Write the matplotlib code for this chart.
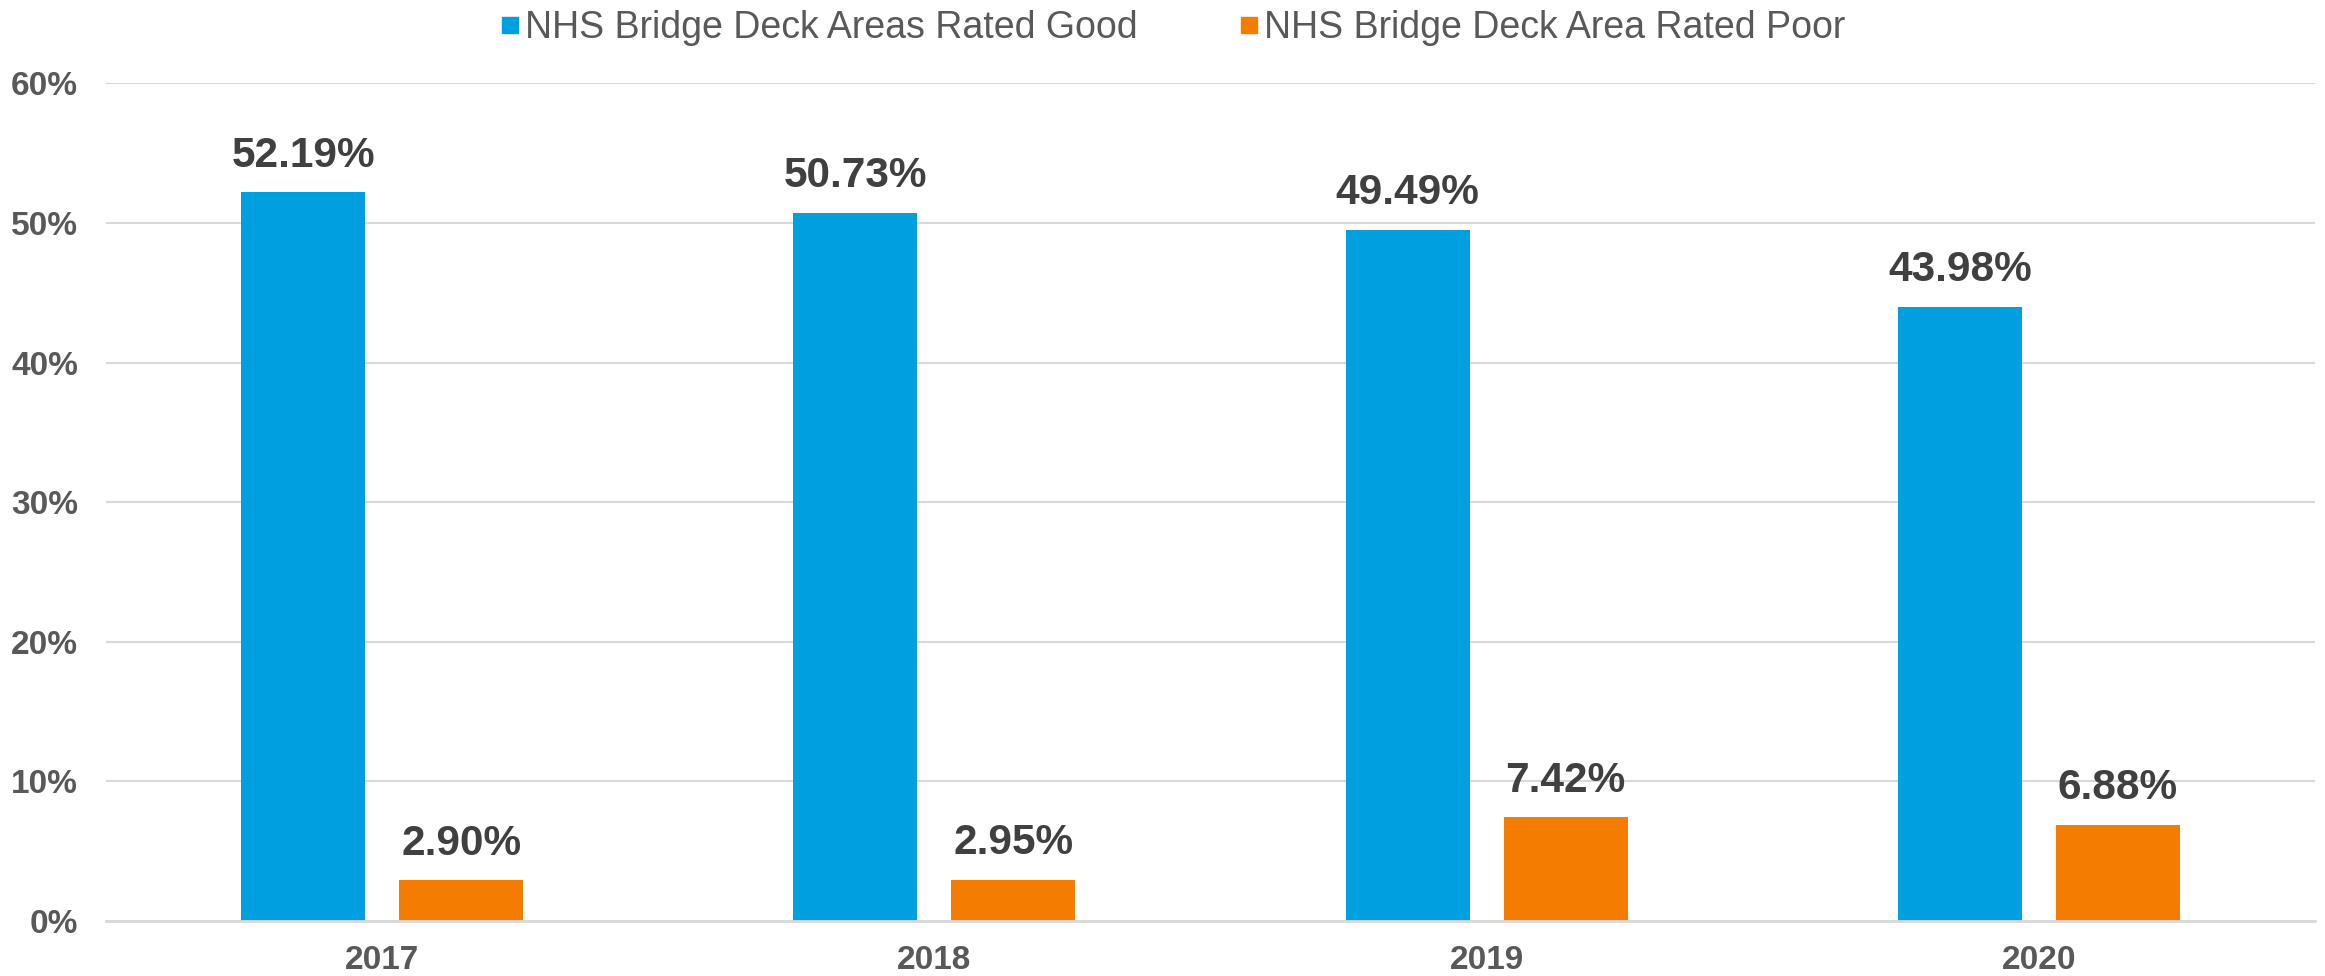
import matplotlib
matplotlib.use("Agg")
import matplotlib.pyplot as plt
from matplotlib.lines import Line2D
import numpy as np

years = ["2017", "2018", "2019", "2020"]
good = [52.19, 50.73, 49.49, 43.98]
poor = [2.90, 2.95, 7.42, 6.88]
series_names = ["NHS Bridge Deck Areas Rated Good", "NHS Bridge Deck Area Rated Poor"]
yticks = [0, 10, 20, 30, 40, 50, 60]

BLUE = "#009FDF"
ORANGE = "#F47C00"
GRID = "#D9D9D9"
AXIS_TEXT = "#595959"
LABEL_TEXT = "#404040"

plt.rcParams["font.family"] = ["Liberation Sans", "DejaVu Sans"]

fig = plt.figure(figsize=(23.25, 9.76), dpi=100)
ax = fig.add_axes([0.0456, 0.0564, 0.9501, 0.8581])

x = np.arange(len(years))
width = 0.2245
gap = 0.0616
off = (width + gap) / 2

b1 = ax.bar(x - off, good, width, color=BLUE, zorder=3)
b2 = ax.bar(x + off, poor, width, color=ORANGE, zorder=3)

for bars, vals in ((b1, good), (b2, poor)):
    for rect, v in zip(bars, vals):
        ax.annotate(f"{v:.2f}%", (rect.get_x() + rect.get_width() / 2, v),
                    xytext=(0, 12), textcoords="offset points",
                    ha="center", va="bottom", fontsize=30.5, fontweight="bold",
                    color=LABEL_TEXT)

ax.set_xlim(-0.5, len(years) - 0.5)
ax.set_ylim(0, 60)
ax.set_yticks(yticks)
ax.set_yticklabels([f"{t}%" for t in yticks])
ax.set_xticks(x)
ax.set_xticklabels(years)
ax.tick_params(axis="y", length=0, pad=20, labelsize=24, labelcolor=AXIS_TEXT)
ax.tick_params(axis="x", length=0, pad=17, labelsize=24, labelcolor=AXIS_TEXT)
for lab in ax.get_xticklabels() + ax.get_yticklabels():
    lab.set_fontweight("bold")

ax.yaxis.grid(True, color=GRID, linewidth=1.5, zorder=0)
ax.set_axisbelow(True)
for side in ("top", "right", "left"):
    ax.spines[side].set_visible(False)
ax.spines["bottom"].set_color(GRID)
ax.spines["bottom"].set_linewidth(2)
ax.spines["bottom"].set_zorder(4)

handles = [Line2D([], [], marker="s", linestyle="none", markersize=12,
                  markerfacecolor=c, markeredgecolor=c) for c in (BLUE, ORANGE)]
fig.legend(handles, series_names, loc="center", bbox_to_anchor=(0.5045, 0.971),
           ncol=2, frameon=False, fontsize=27, labelcolor=AXIS_TEXT,
           handlelength=0.5, handletextpad=0.15, columnspacing=2.7,
           borderpad=0, borderaxespad=0)

fig.savefig("out.png", dpi=100, facecolor="white")
